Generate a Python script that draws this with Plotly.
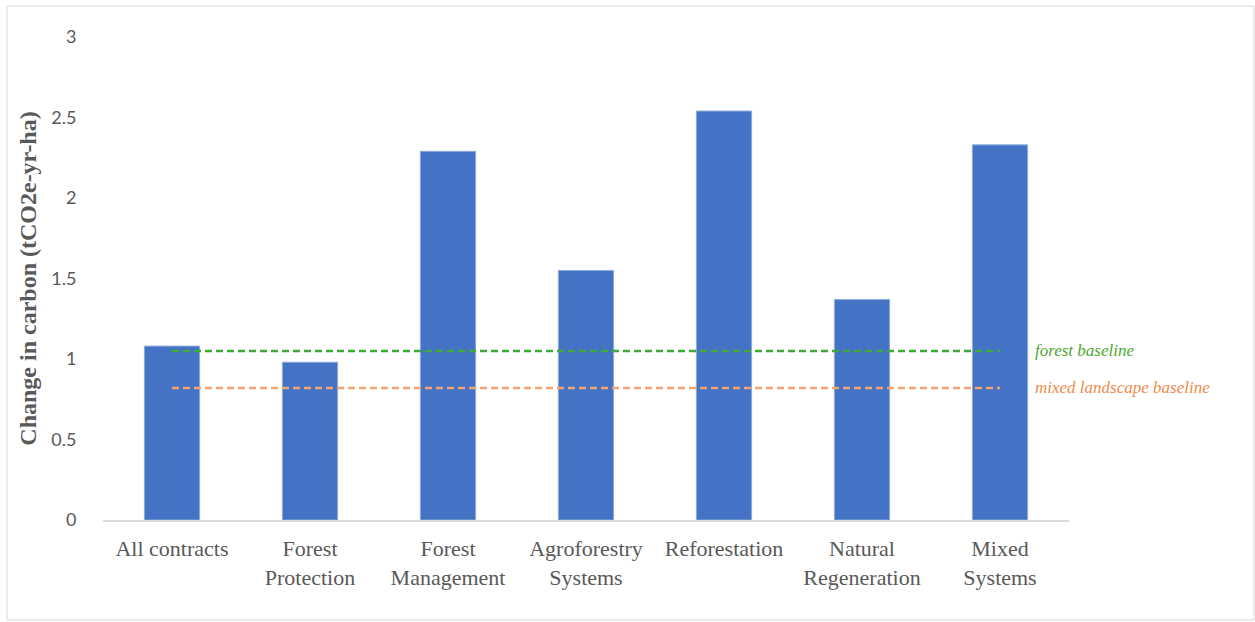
import plotly.graph_objects as go

# Average carbon change per contract type
categories = ["All contracts", "Forest<br>Protection", "Forest<br>Management",
              "Agroforestry<br>Systems", "Reforestation", "Natural<br>Regeneration",
              "Mixed<br>Systems"]
carbon_change = [1.08, 0.98, 2.29, 1.55, 2.54, 1.37, 2.33]

# Reference baselines
forest_baseline = 1.05
mixed_baseline = 0.82

W, H = 1255, 622
L, R, T, B = 103, 186, 37, 102
pw, ph = W - L - R, H - T - B

fig = go.Figure()
fig.add_trace(go.Bar(
    x=categories, y=carbon_change,
    marker=dict(color="#4472C4", line=dict(color="#8FAADC", width=1)),
    width=0.4, showlegend=False, hoverinfo="y",
))
fig.add_trace(go.Scatter(
    x=[categories[0], categories[-1]], y=[forest_baseline] * 2,
    mode="lines", line=dict(color="#3FAA3A", width=2.5, dash="7px,4px"),
    showlegend=False,
))
fig.add_trace(go.Scatter(
    x=[categories[0], categories[-1]], y=[mixed_baseline] * 2,
    mode="lines", line=dict(color="#F2A472", width=2.5, dash="7px,4px"),
    showlegend=False,
))

serif = "Liberation Serif, DejaVu Serif, serif"
label_x = (1033 - L) / pw  # baseline labels sit just right of the plot area
fig.add_annotation(x=label_x, y=forest_baseline, xref="paper", yref="y",
                   text="<i>forest baseline</i>", showarrow=False,
                   xanchor="left", yanchor="middle",
                   font=dict(family=serif, size=17, color="#4EA72E"))
fig.add_annotation(x=label_x, y=mixed_baseline, xref="paper", yref="y",
                   text="<i>mixed landscape baseline</i>", showarrow=False,
                   xanchor="left", yanchor="middle",
                   font=dict(family=serif, size=17, color="#F08A4B"))

# outer chart border
fig.add_shape(type="rect", xref="paper", yref="paper",
              x0=(7 - L) / pw, x1=(1254 - L) / pw,
              y0=(H - B - 620) / ph, y1=(H - B - 6) / ph,
              line=dict(color="#D9D9D9", width=1), fillcolor="rgba(0,0,0,0)",
              layer="below")

fig.update_layout(
    width=W, height=H,
    margin=dict(l=L, r=R, t=T, b=B),
    paper_bgcolor="white", plot_bgcolor="white",
    bargap=0.6,
    xaxis=dict(
        showgrid=False, showline=True, linecolor="#D9D9D9", linewidth=2,
        tickfont=dict(family=serif, size=22, color="#595959"),
        ticks="outside", ticklen=8, tickcolor="rgba(0,0,0,0)",
    ),
    yaxis=dict(
        range=[0, 3], dtick=0.5, showgrid=False, zeroline=False, showline=False,
        tickfont=dict(family="Lato, Open Sans, sans-serif", size=18, color="#595959"),
        ticks="outside", ticklen=22, tickcolor="rgba(0,0,0,0)",
        tickformat="~g",
        title=dict(text="<b>Change in carbon (tCO2e-yr-ha)</b>", standoff=7,
                   font=dict(family=serif, size=24, color="#595959")),
    ),
)

fig.write_html("out.html")
